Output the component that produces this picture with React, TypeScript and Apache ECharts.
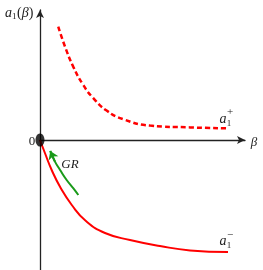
import React, { useEffect, useRef } from "react";
import * as echarts from "echarts";

// a1+ branch (dashed), beta vs a1
const plusBeta = [0.89, 1.22, 1.62, 2.11, 2.6, 3.25, 4.06, 5.37, 7.32, 9.17];
const plusA = [5.67, 4.67, 3.67, 2.75, 2.09, 1.47, 1.04, 0.72, 0.63, 0.58];
// a1- branch (solid)
const minusBeta = [0, 0.24, 0.57, 1.01, 1.55, 2.24, 3.17, 4.39, 5.85, 7.32, 9.17];
const minusA = [0, -0.65, -1.5, -2.4, -3.25, -4.05, -4.65, -5.0, -5.3, -5.52, -5.6];
// GR arrow (green), from tail to head
const grBeta = [1.87, 1.63, 1.3, 0.98, 0.73, 0.5];
const grA = [-2.75, -2.42, -2.0, -1.5, -1.08, -0.55];

const serif = "'Liberation Serif', 'DejaVu Serif', serif";

export default function App() {
  const ref = useRef<HTMLDivElement>(null);
  useEffect(() => {
    const chart = echarts.init(ref.current!, undefined, { renderer: "svg" });
    const zip = (xs: number[], ys: number[]) => xs.map((x, i) => [x, ys[i]]);
    const txt = (x: number, y: number, t: string, size: number, italic: boolean, align = "center") => ({
      type: "text",
      x,
      y,
      style: {
        text: t,
        fontFamily: serif,
        fontSize: size,
        fontStyle: italic ? "italic" : "normal",
        fill: "#222",
        align,
        verticalAlign: "middle",
      },
    });
    const n = grBeta.length;
    chart.setOption({
      animation: false,
      grid: { left: 40, right: 18, top: 10, bottom: 0 },
      xAxis: {
        type: "value",
        min: 0,
        max: 10,
        axisLine: {
          show: true,
          onZero: true,
          symbol: ["none", "arrow"],
          symbolSize: [6, 8],
          lineStyle: { color: "#222", width: 1.3 },
        },
        axisTick: { show: false },
        axisLabel: { show: false },
        splitLine: { show: false },
      },
      yAxis: {
        type: "value",
        min: -6.5,
        max: 6.5,
        axisLine: {
          show: true,
          onZero: false,
          symbol: ["none", "arrow"],
          symbolSize: [6, 8],
          lineStyle: { color: "#222", width: 1.3 },
        },
        axisTick: { show: false },
        axisLabel: { show: false },
        splitLine: { show: false },
      },
      series: [
        {
          type: "line",
          data: zip(plusBeta, plusA),
          smooth: 0.5,
          symbol: "none",
          lineStyle: { color: "#ff0000", width: 2.5, type: [5, 3] },
        },
        {
          type: "line",
          data: zip(minusBeta, minusA),
          smooth: 0.5,
          symbol: "none",
          lineStyle: { color: "#ff0000", width: 2 },
        },
        {
          type: "line",
          data: zip(grBeta, grA),
          smooth: 0.5,
          symbol: "none",
          lineStyle: { color: "#1a9a1a", width: 2 },
        },
        {
          type: "lines",
          coordinateSystem: "cartesian2d",
          symbol: ["none", "arrow"],
          symbolSize: 8,
          lineStyle: { color: "#1a9a1a", width: 2, opacity: 1 },
          data: [{ coords: [[grBeta[n - 2], grA[n - 2]], [grBeta[n - 1], grA[n - 1]]] }],
        },
        {
          type: "scatter",
          data: [[0, 0]],
          symbol: "circle",
          symbolSize: [9, 13],
          itemStyle: { color: "#000" },
          z: 10,
        },
      ],
      graphic: [
        txt(5, 12, "a", 14, true, "left"),
        txt(12, 16, "1", 9, false, "left"),
        {
          type: "text",
          x: 17,
          y: 12,
          style: {
            text: "{n|(}{i|β}{n|)}",
            fontFamily: serif,
            fontSize: 14,
            fill: "#222",
            align: "left",
            verticalAlign: "middle",
            rich: {
              n: { fontFamily: serif, fontSize: 14, fill: "#222" },
              i: { fontFamily: serif, fontSize: 14, fontStyle: "italic", fill: "#222" },
            },
          },
        },
        txt(32, 140, "0", 13, false),
        txt(254, 141, "β", 13, true),
        txt(70, 163, "GR", 13, true),
        txt(223, 118, "a", 14, true),
        txt(229, 123, "1", 9, false),
        txt(230, 111, "+", 11, false),
        txt(223, 240, "a", 14, true),
        txt(229, 245, "1", 9, false),
        txt(230, 234, "−", 11, false),
      ],
    });
    return () => chart.dispose();
  }, []);
  return (
    <div
      ref={ref}
      style={{ position: "fixed", left: 0, top: 0, width: 263, height: 270 }}
    />
  );
}
